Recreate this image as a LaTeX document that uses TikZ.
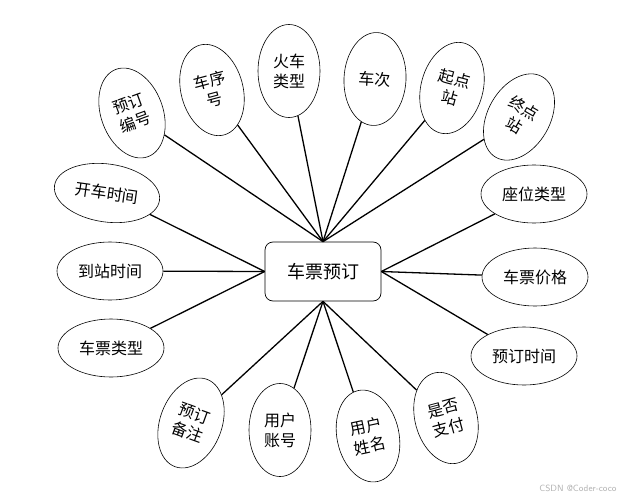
\documentclass[tikz,border=0pt]{standalone}
\usepackage{fontspec}
\newfontfamily\cjk{Noto Sans CJK SC}
\usetikzlibrary{shapes.geometric}
\begin{document}
\begin{tikzpicture}[x=1pt, y=-1pt,
	attr/.style={ellipse, draw, line width=0.6pt, inner sep=0pt, align=center, font=\cjk\fontsize{16}{20}\selectfont},
	tall/.style={attr, minimum width=62pt, minimum height=93pt},
	wide/.style={attr, minimum width=106pt, minimum height=58pt},
	link/.style={line width=1.3pt}]
	\useasboundingbox (0,0) rectangle (636,500);
	% --- Thực thể ---
	\node[draw, line width=0.7pt, rounded corners=8pt, minimum width=116pt, minimum height=59pt,
		font=\cjk\fontsize{18}{20}\selectfont] (ve) at (323,271.5) {车票预订};
	% --- Thuộc tính phía trên ---
	\foreach \n/\xy/\ang/\txt in {bh/{132,113}/20/{预订\\编号}, cx/{212,90}/15/{车序\\号},
		hc/{289,71}/0/{火车\\类型}, cc/{375,79}/-3/{车次}, qd/{452,88}/-15/{起点\\站},
		zd/{519,117}/-30/{终点\\站}}
	\node[tall, rotate=\ang] (\n) at (\xy) {\txt};
	% --- Thuộc tính phía dưới ---
	\foreach \n/\xy/\ang/\txt in {bz/{191,423}/-20/{预订\\备注}, zh/{280,430}/0/{用户\\账号},
		xm/{368,436}/12/{用户\\姓名}, zf/{446,418}/15/{是否\\支付}}
	\node[tall, rotate=\ang] (\n) at (\xy) {\txt};
	% --- Thuộc tính hai bên ---
	\foreach \n/\xy/\ang/\txt in {kc/{107,193}/-8/开车时间, dz/{110,271}/0/到站时间, pl/{111,348}/0/车票类型,
		zw/{534,194}/0/座位类型, jg/{535,277}/0/车票价格, sj/{524,356}/0/预订时间}
	\node[wide, rotate=\ang] (\n) at (\xy) {\txt};
	% --- Đường nối ---
	\foreach \n in {bh,cx,hc,cc,qd,zd} \draw[link] (ve.north) -- (\n);
	\foreach \n in {bz,zh,xm,zf} \draw[link] (ve.south) -- (\n);
	\foreach \n in {kc,dz,pl} \draw[link] (ve.west) -- (\n);
	\foreach \n in {zw,jg,sj} \draw[link] (ve.east) -- (\n);
	\node[text=gray!60, font=\sffamily\fontsize{9}{10}\selectfont] (wm) at (578,488) {CSDN @Coder-coco};
\end{tikzpicture}
\end{document}
